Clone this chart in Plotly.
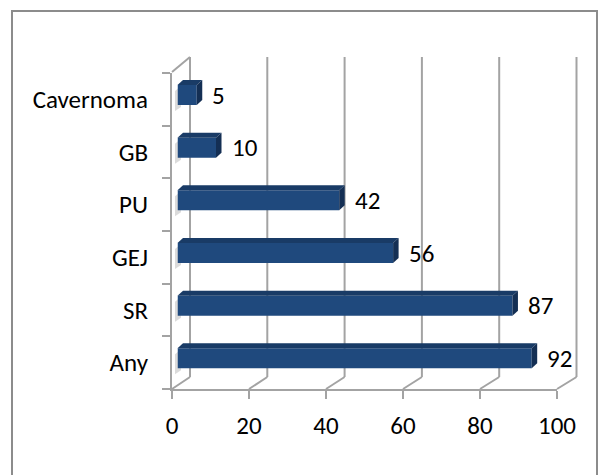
import plotly.graph_objects as go

# ---- data ----
categories = ["Any", "SR", "GEJ", "PU", "GB", "Cavernoma"]
values = [92, 87, 56, 42, 10, 5]
x_ticks = [0, 20, 40, 60, 80, 100]

# ---- geometry (pixels) ----
W, H = 607, 475
FX0, FX1 = 172.0, 557.0          # front plane: x=0 and x=100
FY_TOP, FY_BOT = 73.0, 389.0     # front plane: category band extent
BX0, BX1 = 190.0, 576.5          # back wall: x=0 and x=100
BY_TOP, BY_BOT = 57.0, 377.0     # back wall top / floor back
BAR_OFF = (5.5, -4.3)            # bar front-face plane offset
DEPTH = (5.5, -5.0)              # bar depth
BAR_W = 0.38
XMAX = 100.0
N = len(categories)
band = (FY_BOT - FY_TOP) / N

def P(px, py):
    return px / W, 1 - py / H

def fx(v):
    return FX0 + (FX1 - FX0) * v / XMAX

def bkx(v):
    return BX0 + (BX1 - BX0) * v / XMAX

def bar_x(v):
    return fx(v) + BAR_OFF[0]

def bar_y(i):
    return FY_BOT - (i + 0.5) * band + BAR_OFF[1]

FONT = "Calibri, Carlito, Lato, sans-serif"
FS = 25
GRID = "#a3a3a3"

fig = go.Figure()

# invisible trace that carries the front-plane category axis
fig.add_trace(go.Bar(
    x=[0] * N, y=categories, orientation="h", marker=dict(opacity=0),
    xaxis="x", yaxis="y", hoverinfo="skip", showlegend=False,
))

fig.add_trace(go.Bar(
    x=values, y=categories, orientation="h", width=BAR_W,
    marker=dict(color="#1F497D", line=dict(width=0)),
    xaxis="x2", yaxis="y2", hoverinfo="skip", showlegend=False,
))

shapes = []

def poly(points, fill, line_color=None, lw=0, layer="above"):
    path = "M " + " L ".join(f"{P(x, y)[0]:.5f},{P(x, y)[1]:.5f}" for x, y in points) + " Z"
    shapes.append(dict(type="path", path=path, xref="paper", yref="paper",
                       fillcolor=fill, line=dict(color=line_color or fill, width=lw),
                       layer=layer))

def seg(x0, y0, x1, y1, color=GRID, w=2, layer="below"):
    a, b = P(x0, y0)
    c, d = P(x1, y1)
    shapes.append(dict(type="line", x0=a, y0=b, x1=c, y1=d, xref="paper", yref="paper",
                       line=dict(color=color, width=w), layer=layer))

# outer chart border
a, b = P(12, 11)
c, d = P(597, 490)
shapes.append(dict(type="rect", x0=a, y0=b, x1=c, y1=d, xref="paper", yref="paper",
                   line=dict(color="#8c8c8c", width=2), fillcolor="rgba(0,0,0,0)", layer="below"))

# back wall gridlines
for v in x_ticks:
    seg(bkx(v), BY_TOP, bkx(v), BY_BOT)
# floor diagonals
for v in x_ticks:
    seg(fx(v), FY_BOT, bkx(v), BY_BOT)
# left wall top edge
seg(FX0, FY_TOP - 1, BX0, BY_TOP)

# left wall shading next to each bar
for i in range(N):
    yt = bar_y(i) - 10
    poly([(FX0 + 3, yt + 6), (FX0 + 9, yt + 1), (FX0 + 9, yt + 22), (FX0 + 3, yt + 26)],
         "rgba(190,190,190,0.55)", layer="below")

# bar top and side faces
for i, v in enumerate(values):
    yt = bar_y(i) - 10
    yb = bar_y(i) + 10
    x0, x1 = bar_x(0), bar_x(v)
    dx, dy = DEPTH
    poly([(x0, yt), (x1, yt), (x1 + dx, yt + dy), (x0 + dx, yt + dy)], "#193b66")
    poly([(x1, yt), (x1, yb), (x1 + dx, yb + dy), (x1 + dx, yt + dy)], "#142f54")

# data labels
annotations = []
for c_, v in zip(categories, values):
    annotations.append(dict(x=v, y=c_, xref="x2", yref="y2", text=str(v), showarrow=False,
                            xanchor="left", yanchor="middle", xshift=DEPTH[0] + 8, yshift=0,
                            font=dict(family=FONT, size=FS, color="#000000")))

fig.update_layout(
    width=W, height=H, margin=dict(l=0, r=0, t=0, b=0, autoexpand=False),
    paper_bgcolor="white", plot_bgcolor="rgba(0,0,0,0)",
    shapes=shapes, annotations=annotations, showlegend=False, barmode="overlay",
    font=dict(family=FONT, size=FS, color="#000000"),
    xaxis=dict(domain=[FX0 / W, FX1 / W], range=[0, XMAX], anchor="y", automargin=False,
               tickvals=x_ticks, ticktext=[str(t) for t in x_ticks],
               ticks="outside", ticklen=8, tickwidth=2, tickcolor=GRID,
               showline=True, linecolor=GRID, linewidth=2, showgrid=False, zeroline=False,
               ticklabelstandoff=5, fixedrange=True),
    yaxis=dict(domain=[1 - FY_BOT / H, 1 - FY_TOP / H], range=[-0.5, N - 0.5], anchor="x",
               automargin=False,
               type="category", categoryorder="array", categoryarray=categories,
               ticks="outside", ticklen=8, tickwidth=2, tickcolor=GRID, tickson="boundaries",
               showline=True, linecolor=GRID, linewidth=2, showgrid=False, zeroline=False,
               ticklabelstandoff=17, fixedrange=True),
    xaxis2=dict(domain=[(FX0 + BAR_OFF[0]) / W, (FX1 + BAR_OFF[0]) / W], range=[0, XMAX],
                anchor="y2", visible=False, fixedrange=True, automargin=False),
    yaxis2=dict(domain=[1 - (FY_BOT + BAR_OFF[1]) / H, 1 - (FY_TOP + BAR_OFF[1]) / H],
                range=[-0.5, N - 0.5], anchor="x2", type="category",
                categoryorder="array", categoryarray=categories, visible=False,
                fixedrange=True, automargin=False),
)

fig.write_html("out.html")
